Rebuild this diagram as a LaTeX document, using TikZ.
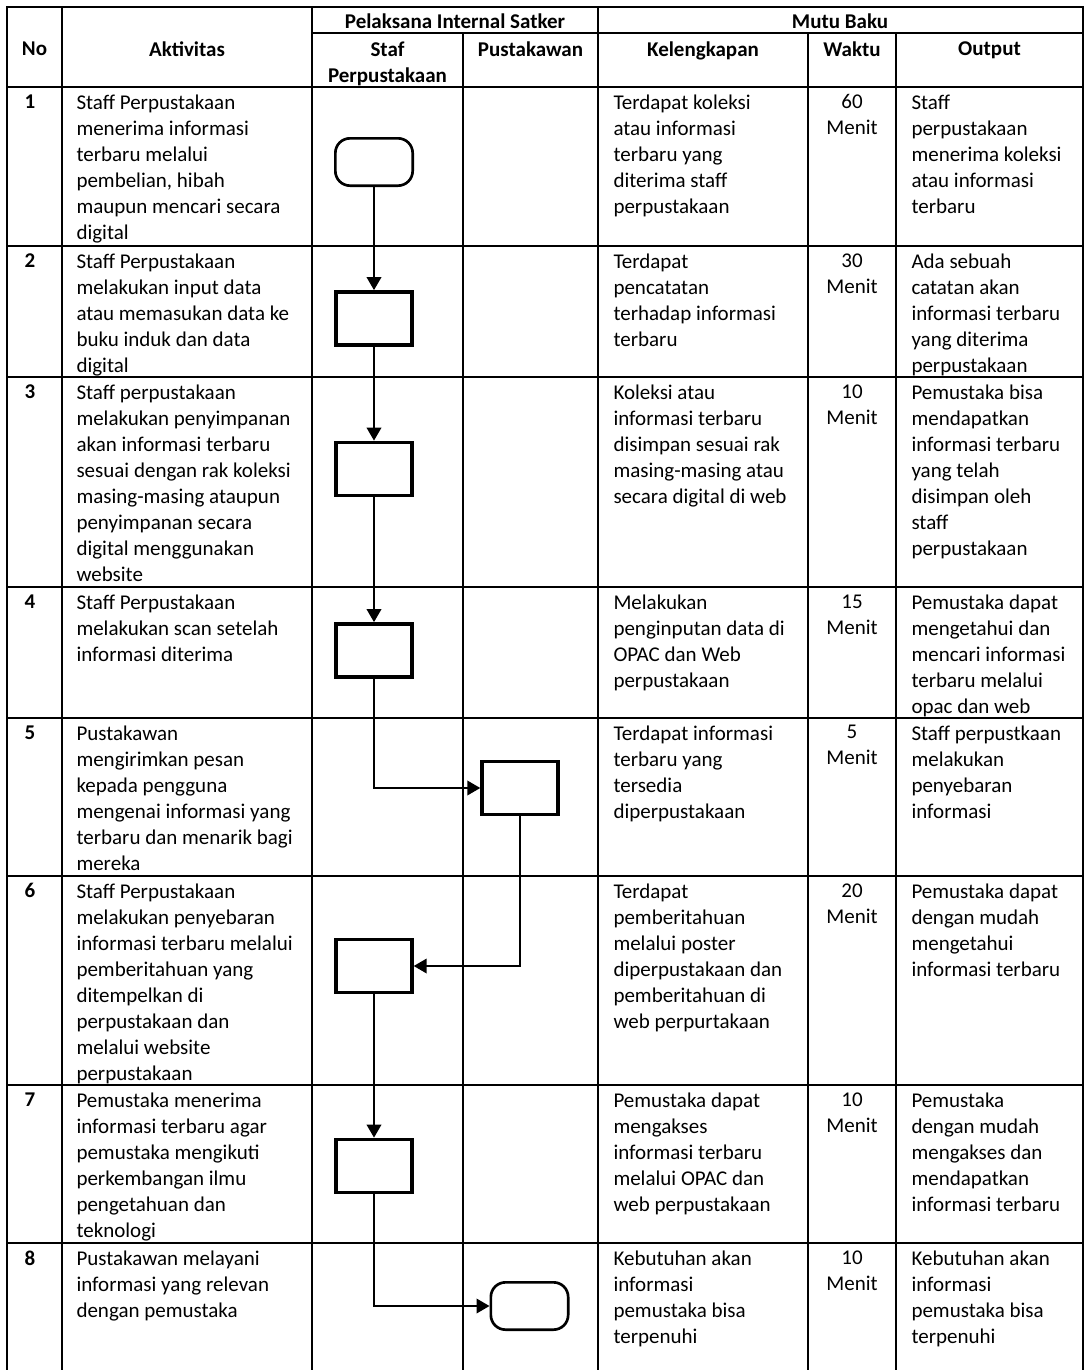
\documentclass[tikz,border=0pt]{standalone}
\usepackage{fontspec}
\setmainfont{Carlito}
\usetikzlibrary{arrows.meta}

\tikzset{every picture/.style={line width=0.75pt}}

\begin{document}
\begin{tikzpicture}[x=0.75pt,y=0.75pt,yscale=-1,xscale=1,
  font=\fontsize{15.75pt}{19.5pt}\selectfont,
  grid/.style={line width=1.5pt,line cap=rect},
  txt/.style={anchor=north west,inner sep=0pt,align=left},
  wkt/.style={anchor=north,inner sep=0pt,align=center},
  hd/.style={anchor=north,inner sep=0pt,align=center,font=\fontsize{15.75pt}{19.5pt}\selectfont\bfseries},
  nr/.style={anchor=north west,inner sep=0pt,font=\fontsize{15.75pt}{19.5pt}\selectfont\bfseries},
  proc/.style={draw,line width=2.6pt,minimum width=57pt,minimum height=40pt,inner sep=0pt},
  term/.style={draw,line width=2pt,rounded corners=11pt,minimum width=58pt,minimum height=35.5pt,inner sep=0pt},
  flow/.style={line width=1.2pt,-{Triangle[length=9.75pt,width=11pt]}},
  line/.style={line width=1.2pt}]
\useasboundingbox (0,0) rectangle (1087,1370);

%Table lines
\foreach \y in {7,87,246,377,587,718,876,1085,1243} \draw[grid] (7,\y) -- (1083,\y);
\draw[grid] (312,33) -- (1083,33);
\foreach \x in {7,62,312,598,1083} \draw[grid] (\x,7) -- (\x,1370);
\foreach \x in {463,808,896} \draw[grid] (\x,33) -- (\x,1370);

% Header
\node[hd] (hno) at (34.5,41) {No};
\node[hd] (hakt) at (187,41) {Aktivitas};
\node[hd] (hpel) at (455,13) {Pelaksana Internal Satker};
\node[hd] (hmutu) at (840,13) {Mutu Baku};
\node[hd] (hstaf) at (387.5,41) {Staf\\Perpustakaan};
\node[hd] (hpus) at (530.5,41) {Pustakawan};
\node[hd] (hkel) at (703,41) {Kelengkapan};
\node[hd] (hwkt) at (852,41) {Waktu};
\node[hd] (hout) at (989.5,41) {Output};

% Row 1
\node[nr] (n1) at (24,94) {1};
\node[txt] (akt1) at (76,94) {Staff Perpustakaan\\menerima informasi\\terbaru melalui\\pembelian, hibah\\maupun mencari secara\\digital};
\node[txt] (kel1) at (613,94) {Terdapat koleksi\\atau informasi\\terbaru yang\\diterima staff\\perpustakaan};
\node[wkt] (wkt1) at (852,94) {60\\Menit};
\node[txt] (out1) at (911,94) {Staff\\perpustakaan\\menerima koleksi\\atau informasi\\terbaru};

% Row 2
\node[nr] (n2) at (24,253) {2};
\node[txt] (akt2) at (76,253) {Staff Perpustakaan\\melakukan input data\\atau memasukan data ke\\buku induk dan data\\digital};
\node[txt] (kel2) at (613,253) {Terdapat\\pencatatan\\terhadap informasi\\terbaru};
\node[wkt] (wkt2) at (852,253) {30\\Menit};
\node[txt] (out2) at (911,253) {Ada sebuah\\catatan akan\\informasi terbaru\\yang diterima\\perpustakaan};

% Row 3
\node[nr] (n3) at (24,384) {3};
\node[txt] (akt3) at (76,384) {Staff perpustakaan\\melakukan penyimpanan\\akan informasi terbaru\\sesuai dengan rak koleksi\\masing-masing ataupun\\penyimpanan secara\\digital menggunakan\\website};
\node[txt] (kel3) at (613,384) {Koleksi atau\\informasi terbaru\\disimpan sesuai rak\\masing-masing atau\\secara digital di web};
\node[wkt] (wkt3) at (852,384) {10\\Menit};
\node[txt] (out3) at (911,384) {Pemustaka bisa\\mendapatkan\\informasi terbaru\\yang telah\\disimpan oleh\\staff\\perpustakaan};

% Row 4
\node[nr] (n4) at (24,594) {4};
\node[txt] (akt4) at (76,594) {Staff Perpustakaan\\melakukan scan setelah\\informasi diterima};
\node[txt] (kel4) at (613,594) {Melakukan\\penginputan data di\\OPAC dan Web\\perpustakaan};
\node[wkt] (wkt4) at (852,594) {15\\Menit};
\node[txt] (out4) at (911,594) {Pemustaka dapat\\mengetahui dan\\mencari informasi\\terbaru melalui\\opac dan web};

% Row 5
\node[nr] (n5) at (24,725) {5};
\node[txt] (akt5) at (76,725) {Pustakawan\\mengirimkan pesan\\kepada pengguna\\mengenai informasi yang\\terbaru dan menarik bagi\\mereka};
\node[txt] (kel5) at (613,725) {Terdapat informasi\\terbaru yang\\tersedia\\diperpustakaan};
\node[wkt] (wkt5) at (852,725) {5\\Menit};
\node[txt] (out5) at (911,725) {Staff perpustkaan\\melakukan\\penyebaran\\informasi};

% Row 6
\node[nr] (n6) at (24,883) {6};
\node[txt] (akt6) at (76,883) {Staff Perpustakaan\\melakukan penyebaran\\informasi terbaru melalui\\pemberitahuan yang\\ditempelkan di\\perpustakaan dan\\melalui website\\perpustakaan};
\node[txt] (kel6) at (613,883) {Terdapat\\pemberitahuan\\melalui poster\\diperpustakaan dan\\pemberitahuan di\\web perpurtakaan};
\node[wkt] (wkt6) at (852,883) {20\\Menit};
\node[txt] (out6) at (911,883) {Pemustaka dapat\\dengan mudah\\mengetahui\\informasi terbaru};

% Row 7
\node[nr] (n7) at (24,1092) {7};
\node[txt] (akt7) at (76,1092) {Pemustaka menerima\\informasi terbaru agar\\pemustaka mengikuti\\perkembangan ilmu\\pengetahuan dan\\teknologi};
\node[txt] (kel7) at (613,1092) {Pemustaka dapat\\mengakses\\informasi terbaru\\melalui OPAC dan\\web perpustakaan};
\node[wkt] (wkt7) at (852,1092) {10\\Menit};
\node[txt] (out7) at (911,1092) {Pemustaka\\dengan mudah\\mengakses dan\\mendapatkan\\informasi terbaru};

% Row 8
\node[nr] (n8) at (24,1250) {8};
\node[txt] (akt8) at (76,1250) {Pustakawan melayani\\informasi yang relevan\\dengan pemustaka};
\node[txt] (kel8) at (613,1250) {Kebutuhan akan\\informasi\\pemustaka bisa\\terpenuhi};
\node[wkt] (wkt8) at (852,1250) {10\\Menit};
\node[txt] (out8) at (911,1250) {Kebutuhan akan\\informasi\\pemustaka bisa\\terpenuhi};

%Flowchart shapes
\node[term] (start) at (374,162) {};
\node[proc] (b2) at (374,318.5) {};
\node[proc] (b3) at (374,469) {};
\node[proc] (b4) at (374,650.5) {};
\node[proc] (b5) at (520,788) {};
\node[proc] (b6) at (374,966) {};
\node[proc] (b7) at (374,1166) {};
\node[term] (finish) at (529.5,1306) {};

%Connectors
\draw[flow] (start) -- (b2);
\draw[flow] (b2) -- (b3);
\draw[flow] (b3) -- (b4);
\draw[flow] (b4.south) |- (b5.west);
\draw[flow] (b5.south) |- (b6.east);
\draw[flow] (b6) -- (b7);
\draw[flow] (b7.south) |- (finish.west);

\end{tikzpicture}
\end{document}
